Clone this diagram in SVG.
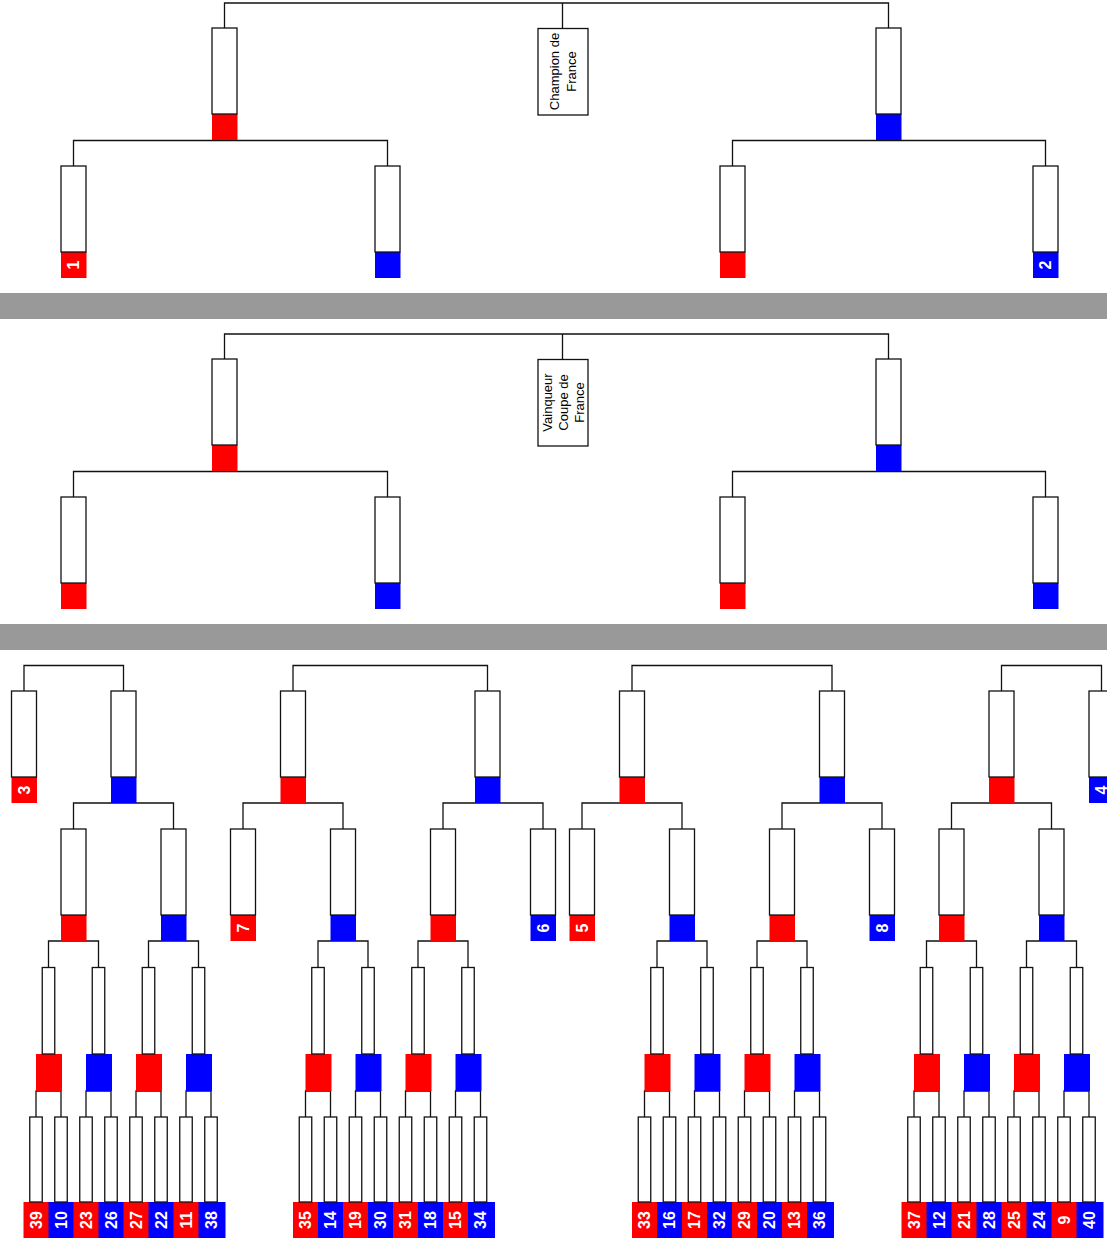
<svg xmlns="http://www.w3.org/2000/svg" xmlns:xlink="http://www.w3.org/1999/xlink" width="1107" height="1238" viewBox="0 0 1107 1238">
<style>
.w{fill:#fff;stroke:#111;stroke-width:1.3}
.r{fill:#ff0000}
.b{fill:#0000ff}
.bar{fill:#999999}
.c{fill:none;stroke:#111;stroke-width:1.3}
.n{fill:#fff;font-family:"Liberation Sans",Arial,sans-serif;font-weight:bold;font-size:16px;text-anchor:middle}
.t{fill:#000;font-family:"Liberation Sans",Arial,sans-serif;font-size:13px;text-anchor:middle}
</style>
<defs>
<g id="bR"><rect class="r" x="-12.5" y="86" width="25.5" height="26"/><rect class="w" x="-12.5" y="0" width="25" height="86"/></g>
<g id="bB"><rect class="b" x="-12.5" y="86" width="25.5" height="26"/><rect class="w" x="-12.5" y="0" width="25" height="86"/></g>
<g id="mR"><rect class="r" x="-12.5" y="86.5" width="26" height="37"/><rect class="w" x="-6.25" y="0" width="12.5" height="86.5"/></g>
<g id="mB"><rect class="b" x="-12.5" y="86.5" width="26" height="37"/><rect class="w" x="-6.25" y="0" width="12.5" height="86.5"/></g>
<g id="lR"><rect class="r" x="-12.5" y="85" width="27" height="40"/><rect class="w" x="-6.25" y="0" width="12.5" height="85"/></g>
<g id="lB"><rect class="b" x="-12.5" y="85" width="27" height="40"/><rect class="w" x="-6.25" y="0" width="12.5" height="85"/></g>
</defs>
<rect class="bar" x="0" y="293" width="1107" height="26"/>
<rect class="bar" x="0" y="624" width="1107" height="26"/>
<g id="connectors">
<path class="c" d="M224.5 28V3H888.5V28M562.5 3V28.5M73.5 166V140.5H387.5V166M732.5 166V140.5H1045.5V166"/>
<path class="c" d="M224.5 359V334H888.5V359M562.5 334V359.5M73.5 497V471.5H387.5V497M732.5 497V471.5H1045.5V497"/>
<path class="c" d="M24 691V665.5H123.5V691M293 691V665.5H487.5V691M632 691V665.5H832V691M1001.5 691V665.5H1101.5V691"/>
<path class="c" d="M73.5 829V803H173.5V829M243 829V803H343V829M443 829V803H543V829M582 829V803H682V829M782 829V803H882V829M951.5 829V803H1051.5V829"/>
<path class="c" d="M48.5 967.5V941H98.5V967.5M148.5 967.5V941H198.5V967.5M318 967.5V941H368V967.5M418 967.5V941H468V967.5M657 967.5V941H707V967.5M757 967.5V941H807V967.5M926.5 967.5V941H976.5V967.5M1026.5 967.5V941H1076.5V967.5"/>
<path class="c" d="M36 1117V1091H61V1117M86 1117V1091H111V1117M136 1117V1091H161V1117M186 1117V1091H211V1117M305.5 1117V1091H330.5V1117M355.5 1117V1091H380.5V1117M405.5 1117V1091H430.5V1117M455.5 1117V1091H480.5V1117M644.5 1117V1091H669.5V1117M694.5 1117V1091H719.5V1117M744.5 1117V1091H769.5V1117M794.5 1117V1091H819.5V1117M914 1117V1091H939V1117M964 1117V1091H989V1117M1014 1117V1091H1039V1117M1064 1117V1091H1089V1117"/>
</g>
<!-- Top section -->
<g id="champion"><rect class="w" x="538" y="28.5" width="50" height="86.5"/><text class="t" transform="translate(563 71.5) rotate(-90)"><tspan x="0" y="-4.5">Champion de</tspan><tspan x="0" y="13">France</tspan></text></g>
<g id="a1"><use xlink:href="#bR" x="224.5" y="28"/></g>
<g id="a2"><use xlink:href="#bB" x="888.5" y="28"/></g>
<g id="a3"><use xlink:href="#bR" x="73.5" y="166"/><text class="n" transform="translate(73.5 265) rotate(-90)" dy="5.7">1</text></g>
<g id="a4"><use xlink:href="#bB" x="387.5" y="166"/></g>
<g id="a5"><use xlink:href="#bR" x="732.5" y="166"/></g>
<g id="a6"><use xlink:href="#bB" x="1045.5" y="166"/><text class="n" transform="translate(1045.5 265) rotate(-90)" dy="5.7">2</text></g>
<!-- Second section -->
<g id="coupe"><rect class="w" x="538" y="359.5" width="50" height="86.5"/><text class="t" transform="translate(563 402.5) rotate(-90)"><tspan x="0" y="-11">Vainqueur</tspan><tspan x="0" y="5">Coupe de</tspan><tspan x="0" y="21">France</tspan></text></g>
<g id="b1"><use xlink:href="#bR" x="224.5" y="359"/></g>
<g id="b2"><use xlink:href="#bB" x="888.5" y="359"/></g>
<g id="b3"><use xlink:href="#bR" x="73.5" y="497"/></g>
<g id="b4"><use xlink:href="#bB" x="387.5" y="497"/></g>
<g id="b5"><use xlink:href="#bR" x="732.5" y="497"/></g>
<g id="b6"><use xlink:href="#bB" x="1045.5" y="497"/></g>
<!-- Bottom section: level 1 -->
<g id="s3"><use xlink:href="#bR" x="24" y="691"/><text class="n" transform="translate(24 790) rotate(-90)" dy="5.7">3</text></g>
<g id="g1l1"><use xlink:href="#bB" x="123.5" y="691"/></g>
<g id="g2l1a"><use xlink:href="#bR" x="293" y="691"/></g>
<g id="g2l1b"><use xlink:href="#bB" x="487.5" y="691"/></g>
<g id="g3l1a"><use xlink:href="#bR" x="632" y="691"/></g>
<g id="g3l1b"><use xlink:href="#bB" x="832" y="691"/></g>
<g id="g4l1"><use xlink:href="#bR" x="1001.5" y="691"/></g>
<g id="s4"><use xlink:href="#bB" x="1101.5" y="691"/><text class="n" transform="translate(1101.5 790) rotate(-90)" dy="5.7">4</text></g>
<!-- level 2 -->
<g id="g1l2a"><use xlink:href="#bR" x="73.5" y="829"/></g>
<g id="g1l2b"><use xlink:href="#bB" x="173.5" y="829"/></g>
<g id="s7"><use xlink:href="#bR" x="243" y="829"/><text class="n" transform="translate(243 928) rotate(-90)" dy="5.7">7</text></g>
<g id="g2l2a"><use xlink:href="#bB" x="343" y="829"/></g>
<g id="g2l2b"><use xlink:href="#bR" x="443" y="829"/></g>
<g id="s6"><use xlink:href="#bB" x="543" y="829"/><text class="n" transform="translate(543 928) rotate(-90)" dy="5.7">6</text></g>
<g id="s5"><use xlink:href="#bR" x="582" y="829"/><text class="n" transform="translate(582 928) rotate(-90)" dy="5.7">5</text></g>
<g id="g3l2a"><use xlink:href="#bB" x="682" y="829"/></g>
<g id="g3l2b"><use xlink:href="#bR" x="782" y="829"/></g>
<g id="s8"><use xlink:href="#bB" x="882" y="829"/><text class="n" transform="translate(882 928) rotate(-90)" dy="5.7">8</text></g>
<g id="g4l2a"><use xlink:href="#bR" x="951.5" y="829"/></g>
<g id="g4l2b"><use xlink:href="#bB" x="1051.5" y="829"/></g>
<!-- level 3 -->
<g id="m1"><use xlink:href="#mR" x="48.5" y="967.5"/></g>
<g id="m2"><use xlink:href="#mB" x="98.5" y="967.5"/></g>
<g id="m3"><use xlink:href="#mR" x="148.5" y="967.5"/></g>
<g id="m4"><use xlink:href="#mB" x="198.5" y="967.5"/></g>
<g id="m5"><use xlink:href="#mR" x="318" y="967.5"/></g>
<g id="m6"><use xlink:href="#mB" x="368" y="967.5"/></g>
<g id="m7"><use xlink:href="#mR" x="418" y="967.5"/></g>
<g id="m8"><use xlink:href="#mB" x="468" y="967.5"/></g>
<g id="m9"><use xlink:href="#mR" x="657" y="967.5"/></g>
<g id="m10"><use xlink:href="#mB" x="707" y="967.5"/></g>
<g id="m11"><use xlink:href="#mR" x="757" y="967.5"/></g>
<g id="m12"><use xlink:href="#mB" x="807" y="967.5"/></g>
<g id="m13"><use xlink:href="#mR" x="926.5" y="967.5"/></g>
<g id="m14"><use xlink:href="#mB" x="976.5" y="967.5"/></g>
<g id="m15"><use xlink:href="#mR" x="1026.5" y="967.5"/></g>
<g id="m16"><use xlink:href="#mB" x="1076.5" y="967.5"/></g>
<!-- leaves -->
<g id="p39"><use xlink:href="#lR" x="36" y="1117"/><text class="n" transform="translate(36 1220) rotate(-90)" dy="5.7">39</text></g>
<g id="p10"><use xlink:href="#lB" x="61" y="1117"/><text class="n" transform="translate(61 1220) rotate(-90)" dy="5.7">10</text></g>
<g id="p23"><use xlink:href="#lR" x="86" y="1117"/><text class="n" transform="translate(86 1220) rotate(-90)" dy="5.7">23</text></g>
<g id="p26"><use xlink:href="#lB" x="111" y="1117"/><text class="n" transform="translate(111 1220) rotate(-90)" dy="5.7">26</text></g>
<g id="p27"><use xlink:href="#lR" x="136" y="1117"/><text class="n" transform="translate(136 1220) rotate(-90)" dy="5.7">27</text></g>
<g id="p22"><use xlink:href="#lB" x="161" y="1117"/><text class="n" transform="translate(161 1220) rotate(-90)" dy="5.7">22</text></g>
<g id="p11"><use xlink:href="#lR" x="186" y="1117"/><text class="n" transform="translate(186 1220) rotate(-90)" dy="5.7">11</text></g>
<g id="p38"><use xlink:href="#lB" x="211" y="1117"/><text class="n" transform="translate(211 1220) rotate(-90)" dy="5.7">38</text></g>
<g id="p35"><use xlink:href="#lR" x="305.5" y="1117"/><text class="n" transform="translate(305.5 1220) rotate(-90)" dy="5.7">35</text></g>
<g id="p14"><use xlink:href="#lB" x="330.5" y="1117"/><text class="n" transform="translate(330.5 1220) rotate(-90)" dy="5.7">14</text></g>
<g id="p19"><use xlink:href="#lR" x="355.5" y="1117"/><text class="n" transform="translate(355.5 1220) rotate(-90)" dy="5.7">19</text></g>
<g id="p30"><use xlink:href="#lB" x="380.5" y="1117"/><text class="n" transform="translate(380.5 1220) rotate(-90)" dy="5.7">30</text></g>
<g id="p31"><use xlink:href="#lR" x="405.5" y="1117"/><text class="n" transform="translate(405.5 1220) rotate(-90)" dy="5.7">31</text></g>
<g id="p18"><use xlink:href="#lB" x="430.5" y="1117"/><text class="n" transform="translate(430.5 1220) rotate(-90)" dy="5.7">18</text></g>
<g id="p15"><use xlink:href="#lR" x="455.5" y="1117"/><text class="n" transform="translate(455.5 1220) rotate(-90)" dy="5.7">15</text></g>
<g id="p34"><use xlink:href="#lB" x="480.5" y="1117"/><text class="n" transform="translate(480.5 1220) rotate(-90)" dy="5.7">34</text></g>
<g id="p33"><use xlink:href="#lR" x="644.5" y="1117"/><text class="n" transform="translate(644.5 1220) rotate(-90)" dy="5.7">33</text></g>
<g id="p16"><use xlink:href="#lB" x="669.5" y="1117"/><text class="n" transform="translate(669.5 1220) rotate(-90)" dy="5.7">16</text></g>
<g id="p17"><use xlink:href="#lR" x="694.5" y="1117"/><text class="n" transform="translate(694.5 1220) rotate(-90)" dy="5.7">17</text></g>
<g id="p32"><use xlink:href="#lB" x="719.5" y="1117"/><text class="n" transform="translate(719.5 1220) rotate(-90)" dy="5.7">32</text></g>
<g id="p29"><use xlink:href="#lR" x="744.5" y="1117"/><text class="n" transform="translate(744.5 1220) rotate(-90)" dy="5.7">29</text></g>
<g id="p20"><use xlink:href="#lB" x="769.5" y="1117"/><text class="n" transform="translate(769.5 1220) rotate(-90)" dy="5.7">20</text></g>
<g id="p13"><use xlink:href="#lR" x="794.5" y="1117"/><text class="n" transform="translate(794.5 1220) rotate(-90)" dy="5.7">13</text></g>
<g id="p36"><use xlink:href="#lB" x="819.5" y="1117"/><text class="n" transform="translate(819.5 1220) rotate(-90)" dy="5.7">36</text></g>
<g id="p37"><use xlink:href="#lR" x="914" y="1117"/><text class="n" transform="translate(914 1220) rotate(-90)" dy="5.7">37</text></g>
<g id="p12"><use xlink:href="#lB" x="939" y="1117"/><text class="n" transform="translate(939 1220) rotate(-90)" dy="5.7">12</text></g>
<g id="p21"><use xlink:href="#lR" x="964" y="1117"/><text class="n" transform="translate(964 1220) rotate(-90)" dy="5.7">21</text></g>
<g id="p28"><use xlink:href="#lB" x="989" y="1117"/><text class="n" transform="translate(989 1220) rotate(-90)" dy="5.7">28</text></g>
<g id="p25"><use xlink:href="#lR" x="1014" y="1117"/><text class="n" transform="translate(1014 1220) rotate(-90)" dy="5.7">25</text></g>
<g id="p24"><use xlink:href="#lB" x="1039" y="1117"/><text class="n" transform="translate(1039 1220) rotate(-90)" dy="5.7">24</text></g>
<g id="p9"><use xlink:href="#lR" x="1064" y="1117"/><text class="n" transform="translate(1064 1220) rotate(-90)" dy="5.7">9</text></g>
<g id="p40"><use xlink:href="#lB" x="1089" y="1117"/><text class="n" transform="translate(1089 1220) rotate(-90)" dy="5.7">40</text></g>
</svg>
